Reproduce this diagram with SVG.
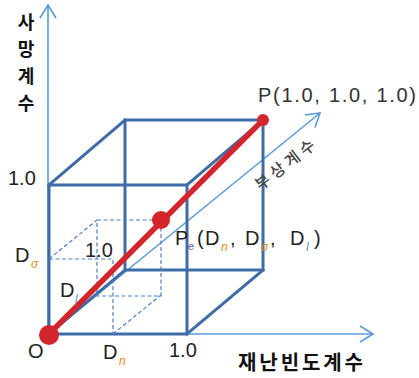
<svg xmlns="http://www.w3.org/2000/svg" width="419" height="378" viewBox="0 0 419 378">
<style>
.axis{stroke:#5b9bd5;stroke-width:1.6;fill:none}
.cube{stroke:#3f6ca6;stroke-width:3;fill:none;stroke-linecap:square}
.dash{stroke:#4a7fc2;stroke-width:1.2;fill:none;stroke-dasharray:4 2.5}
.red{stroke:#d3262c;stroke-width:5.5;fill:none}
.dot{fill:#d3262c}
.lbl{font-family:"Liberation Sans","DejaVu Sans",sans-serif;font-size:20px;fill:#222}
.ko{font-family:"Noto Sans CJK KR",sans-serif;font-weight:700;fill:#111}
.sub{font-size:12px;font-style:italic;fill:#e08c24}
</style>
<defs>
<marker id="arr" viewBox="-15 -10 17 20" refX="0" refY="0" markerWidth="17" markerHeight="20" markerUnits="userSpaceOnUse" orient="auto">
<path d="M-13,-8 L0,0 L-13,8" fill="none" stroke="#5b9bd5" stroke-width="1.6"/>
</marker>
</defs>
<rect width="419" height="378" fill="#fff"/>
<g id="connectors">
<line class="axis" x1="48" y1="334" x2="48" y2="5" marker-end="url(#arr)"/>
<line class="axis" x1="49" y1="334" x2="373" y2="334" marker-end="url(#arr)"/>
<line class="axis" x1="49" y1="334" x2="320" y2="113" marker-end="url(#arr)"/>
</g>
<g id="cube">
<rect class="cube" x="49" y="185" width="138" height="149"/>
<rect class="cube" x="125" y="120" width="138" height="150"/>
<line class="cube" x1="49" y1="334" x2="125" y2="270"/>
<line class="cube" x1="49" y1="185" x2="125" y2="120"/>
<line class="cube" x1="187" y1="185" x2="263" y2="120"/>
<line class="cube" x1="187" y1="334" x2="263" y2="270"/>
</g>
<g id="subbox">
<path class="dash" d="M49,259 H113 V334 M49,259 L97,220 M113,334 L161,295 M97,220 H161 V296 H97 Z"/>
</g>
<g id="diagonal">
<line class="red" x1="49" y1="334" x2="263" y2="120"/>
</g>
<g id="node-O">
<circle class="dot" cx="49" cy="335" r="10"/>
<text class="lbl" x="28" y="358">O</text>
</g>
<g id="node-Pe">
<circle class="dot" cx="161" cy="220" r="9"/>
<text class="lbl" x="175" y="245">P</text>
<text class="lbl sub" x="188" y="250" style="fill:#6a5cb0;font-style:normal;font-size:11px">e</text>
<text class="lbl" x="197" y="245">(</text>
<text class="lbl" x="205" y="245">D</text>
<text class="lbl sub" x="221" y="251">n</text>
<text class="lbl" x="230" y="245">,</text>
<text class="lbl" x="245" y="245">D</text>
<text class="lbl sub" x="261" y="251">σ</text>
<text class="lbl" x="270" y="245">,</text>
<text class="lbl" x="290" y="245">D</text>
<text class="lbl sub" x="306" y="251" style="fill:#5a8ed0">l</text>
<text class="lbl" x="314" y="245">)</text>
</g>
<g id="node-P">
<circle class="dot" cx="263" cy="120" r="6"/>
<text class="lbl" x="258" y="102" textLength="158" lengthAdjust="spacing" style="fill:#333">P(1.0, 1.0, 1.0)</text>
</g>
<g id="labels">
<text class="lbl" x="8" y="185">1.0</text>
<text class="lbl" x="85" y="257">1.0</text>
<text class="lbl" x="169" y="357">1.0</text>
<text class="lbl" x="15" y="262">D</text>
<text class="lbl sub" x="31" y="268">σ</text>
<text class="lbl" x="60" y="297">D</text>
<text class="lbl sub" x="75" y="303" style="fill:#5a8ed0">l</text>
<text class="lbl" x="103" y="359">D</text>
<text class="lbl sub" x="119" y="365">n</text>
</g>
<g id="axis-labels">
<g class="ko" font-size="18" text-anchor="middle">
<text x="26" y="29">사</text>
<text x="26" y="56">망</text>
<text x="26" y="83">계</text>
<text x="26" y="110">수</text>
</g>
<text class="ko" x="238" y="370" font-size="20" textLength="125" lengthAdjust="spacing">재난빈도계수</text>
<text x="0" y="0" transform="translate(290,168) rotate(-38)" text-anchor="middle" font-family="'Noto Sans CJK KR',sans-serif" font-weight="500" font-size="16" letter-spacing="4" fill="#444">부상계수</text>
</g>
</svg>
